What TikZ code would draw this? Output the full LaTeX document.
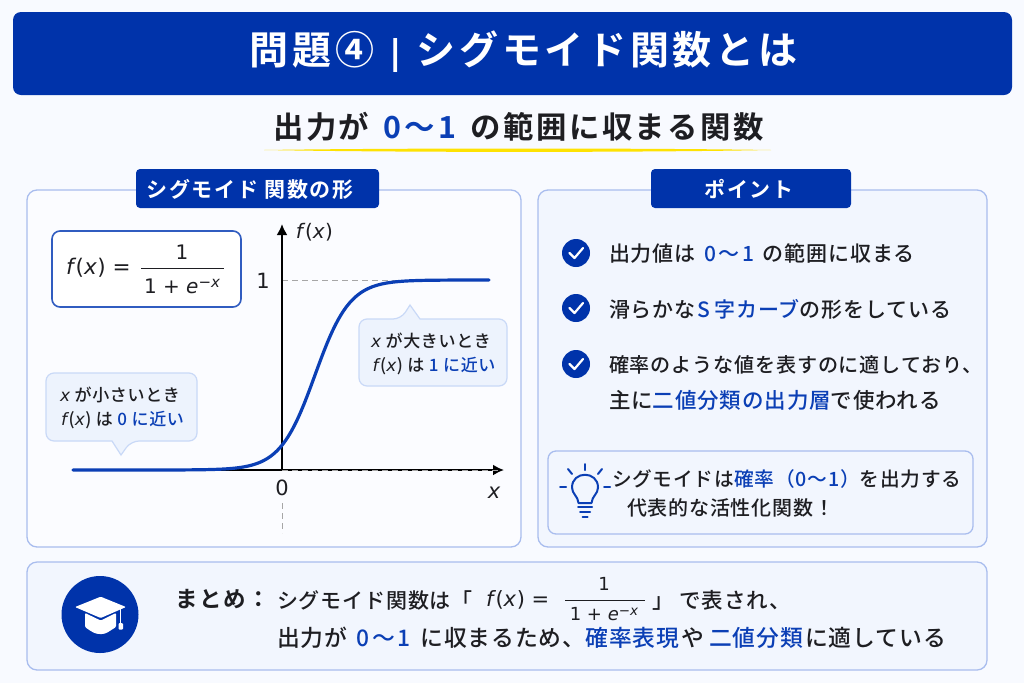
\documentclass[tikz,border=0pt]{standalone}
\usepackage{fontspec}
\setmainfont{Noto Sans CJK JP}
\newfontfamily\jpm[LetterSpace=4]{Noto Sans CJK JP Medium}
\newfontfamily\jpb[LetterSpace=8]{Noto Sans CJK JP Bold}
\newfontfamily\jptitle[LetterSpace=9.5]{Noto Sans CJK JP Bold}
\newfontfamily\lat{DejaVu Sans}
\definecolor{navy}{HTML}{0033AA}
\definecolor{hblue}{HTML}{0B3FB5}
\definecolor{edgeb}{HTML}{A9BDEE}
\definecolor{ink}{HTML}{1E1E22}
\definecolor{pagebg}{HTML}{F8FAFF}
\definecolor{panelb}{HTML}{F2F6FE}
\definecolor{callfill}{HTML}{EDF3FD}
\definecolor{calledge}{HTML}{C9D9F7}
\newcommand{\fsz}[1]{\fontsize{#1}{#1}\selectfont}
\newcommand{\hb}[1]{\textcolor{hblue}{#1}}
\newcommand{\mi}[1]{{\lat\itshape #1}}
\newcommand{\fxx}{\mi{f}\hskip.1em(\mi{x}\hskip.03em)}
\newcommand{\zo}{\hb{\hskip.15em 0\hskip.12em〜\hskip.12em 1\hskip.15em}}
\usetikzlibrary{arrows.meta}
\tikzset{
  lbl/.style={inner sep=0pt,outer sep=0pt,text=ink,font=\jpm\fsz{20.5}},
  lw/.style={lbl,anchor=west},
  panel/.style={draw=edgeb,line width=1.3pt,rounded corners=10pt},
  tabbox/.style={fill=navy,rounded corners=4pt},
  tablbl/.style={lbl,text=white,font=\jpb\fsz{21}},
  call/.style={draw=calledge,line width=1.2pt,fill=callfill},
  chk/.style={draw=white,line width=2.2pt,line cap=round,line join=round},
  bulbln/.style={draw=hblue,line width=2pt,line cap=round,line join=round},
  axisln/.style={draw=black,line width=2pt,-{Latex[length=11pt,width=11pt]}},
  guide/.style={draw=gray!70,line width=1pt,dash pattern=on 6pt off 4pt},
  fracbar/.style={draw=ink,line width=1pt},
}
\begin{document}
\begin{tikzpicture}[x=1pt,y=-1pt]
\path[fill=pagebg] (0,0) rectangle (1024,683);
\useasboundingbox (0,0) rectangle (1024,683);
% header
\fill[navy,rounded corners=8pt] (13,12) rectangle (1012,95);
\node[lbl,text=white,font=\jptitle\fsz{39}] (title) at (523.5,52) {問題④\makebox[1.09em]{\lat\bfseries\fsz{34}|}シグモイド関数とは};
% subtitle
\node[lbl,font=\jpb\fsz{30.4}] (sub) at (518.5,127) {出力が \zo{} の範囲に収まる関数};
\fill[yellow!85!orange] (264,150) .. controls (400,148) and (640,148) .. (771,150) .. controls (640,152.5) and (400,152.5) .. (264,150) -- cycle;
% left panel
\draw[panel,fill=pagebg!60!white] (27,190) rectangle (521,547);
\fill[tabbox] (136,169) rectangle (379,208);
\node[tablbl] (ltab) at (250,189) {シグモイド 関数の形};
% formula box
\draw[draw=hblue!85,line width=1.6pt,fill=white,rounded corners=8pt] (52,231) rectangle (241,307);
\node[lw,font=\lat\fsz{21.5}] (fx) at (66,268) {\fxx{} =};
\coordinate (fb1) at (141,268.5); \coordinate (fb2) at (224,268.5);
\draw[fracbar] (fb1) -- (fb2);
\node[lbl,font=\lat\fsz{20}] (fn) at (182,252) {1};
\node[lbl,font=\lat\fsz{20}] (fd) at (182,286) {1 + \mi{e}\raisebox{6pt}{\fsz{15}−\mi{x}}};
% axes
\coordinate (o) at (282,470);
\coordinate (ytop) at (282,224);
\coordinate (xend) at (504,470);
\coordinate (xstart) at (73,470);
\coordinate (g1) at (282,280); \coordinate (g2) at (400,280);
\coordinate (g3) at (282,503); \coordinate (g4) at (282,533);
\coordinate (g5) at (498,470);
\draw[guide] (g1) -- (g2);
\draw[guide] (g3) -- (g4);
\draw[axisln] (o) -- (ytop);
\draw[axisln] (xstart) -- (xend);
\draw[guide] (o) -- (g5);
\draw[draw=hblue,line width=3.2pt,line cap=round] plot[domain=73:489,samples=140,smooth] (\x,{470-190/(1+exp(max(-8,min(8,-(\x-315)/17.4))))});
\node[lbl,font=\lat\fsz{20}] (fxl) at (314.5,232) {\fxx};
\node[lbl,font=\lat\fsz{21}] (one) at (263,281) {1};
\node[lbl,font=\lat\fsz{21}] (zero) at (282,488) {0};
\node[lbl,font=\lat\itshape\fsz{21}] (xl) at (494,493) {x};
% callouts
\draw[call,rounded corners=8pt] (359,350) |- (401,319) [sharp corners] -- (410,305) -- (420,319) [rounded corners=8pt] -| (507,386) -| (359,350) -- cycle;
\node[lbl,font=\jpm\fsz{17}] (c1a) at (431,341) {\mi{x} が大きいとき};
\node[lbl,font=\jpm\fsz{17}] (c1b) at (434,366) {\fxx{} は \hb{1 に近い}};
\draw[call,rounded corners=8pt] (46,400) |- (197,373) |- (131,441) [sharp corners] -- (121,455) -- (112,441) [rounded corners=8pt] -| (46,400) -- cycle;
\node[lbl,font=\jpm\fsz{17}] (c2a) at (120,395) {\mi{x} が小さいとき};
\node[lbl,font=\jpm\fsz{17}] (c2b) at (122.5,420) {\fxx{} は \hb{0 に近い}};
% right panel
\draw[panel,fill=panelb] (538,190) rectangle (987,547);
\fill[tabbox] (651,169) rectangle (851,208);
\node[tablbl] (rtab) at (749,189) {ポイント};
\foreach \cy in {253,308,364}{
  \fill[navy] (576,\cy) circle (14pt);
  \draw[chk] (569.5,\cy) -- (574.5,\cy+5) -- (583,\cy-5);
}
\node[lw,font=\jpm\fsz{21}] (p1) at (609,254) {出力値は \zo{} の範囲に収まる};
\node[lw,font=\jpm\fsz{21}] (p2) at (609,309) {滑らかな\hb{\hskip.1em S\hskip.2em 字カーブ}の形をしている};
\node[lw,font=\jpm\fsz{20.1}] (p3) at (609,365) {確率のような値を表すのに適しており、};
\node[lw,font=\jpm\fsz{21.5}] (p4) at (609,400) {主に\hb{二値分類の出力層}で使われる};
% tip box
\draw[panel,rounded corners=8pt] (548,451) rectangle (973,534);
\draw[bulbln] (578.5,503) .. controls (578,496) and (572,494) .. (572,487.5) .. controls (572,470.5) and (598,470.5) .. (598,487.5) .. controls (598,494) and (592,496) .. (591.5,503) -- cycle;
\coordinate (bl1a) at (578,507); \coordinate (bl1b) at (592,507);
\coordinate (bl2a) at (580,512); \coordinate (bl2b) at (590,512);
\coordinate (bl3a) at (582.5,517); \coordinate (bl3b) at (587.5,517);
\draw[bulbln] (bl1a) -- (bl1b);
\draw[bulbln] (bl2a) -- (bl2b);
\draw[bulbln] (bl3a) -- (bl3b);
\draw[bulbln] (585,464) -- (585,470);
\draw[bulbln] (568,469) -- (572,474);
\draw[bulbln] (602,469) -- (598,474);
\draw[bulbln] (560,487) -- (566,487);
\draw[bulbln] (604,487) -- (610,487);
\node[lw,font=\jpm\fsz{19.7}] (t1) at (612,479) {シグモイドは\hb{確率（0〜1）}を出力する};
\node[lw,font=\jpm\fsz{20}] (t2) at (627,508) {代表的な活性化関数！};
% bottom panel
\draw[panel,fill=panelb] (27,562) rectangle (987,670);
\fill[navy] (100,614.5) circle (38.5pt);
\fill[white,rounded corners=1pt] (85,613) -- (100.7,620.5) -- (116,613) -- (116,627) .. controls (108,632) and (106,634) .. (100.7,634) .. controls (95,634) and (92,632) .. (85,627) -- cycle;
\fill[white,rounded corners=1pt] (100.7,596.7) -- (126,607) -- (100.7,618) -- (75,607) -- cycle;
\draw[white,line width=1.4pt] (120.5,608) -- (120.5,623);
\fill[white,rounded corners=1pt] (118.5,623) rectangle (123,629.5);
\node[lw,font=\jpb\fsz{22.5}] (m0) at (175,599) {まとめ：};
\node[lw,font=\jpm\fsz{21}] (m1) at (277,600) {シグモイド関数は「};
\node[lw,font=\lat\fsz{21}] (m2) at (486,600) {\fxx{} =};
\coordinate (mb1) at (565,600.5); \coordinate (mb2) at (645,600.5);
\draw[fracbar] (mb1) -- (mb2);
\node[lbl,font=\lat\fsz{18}] (mn) at (604,584) {1};
\node[lbl,font=\lat\fsz{18}] (md) at (604,614) {1 + \mi{e}\raisebox{5pt}{\fsz{13.5}−\mi{x}}};
\node[lw,font=\jpm\fsz{21.5}] (m3) at (652,600) {」\hskip6pt で表され、};
\node[lw,font=\jpm\fsz{22.8}] (m4) at (277,638) {出力が \zo{} に収まるため、\hb{確率表現}\hskip2pt や\hskip5pt \hb{二値分類}\hskip2pt に適している};
\end{tikzpicture}
\end{document}
